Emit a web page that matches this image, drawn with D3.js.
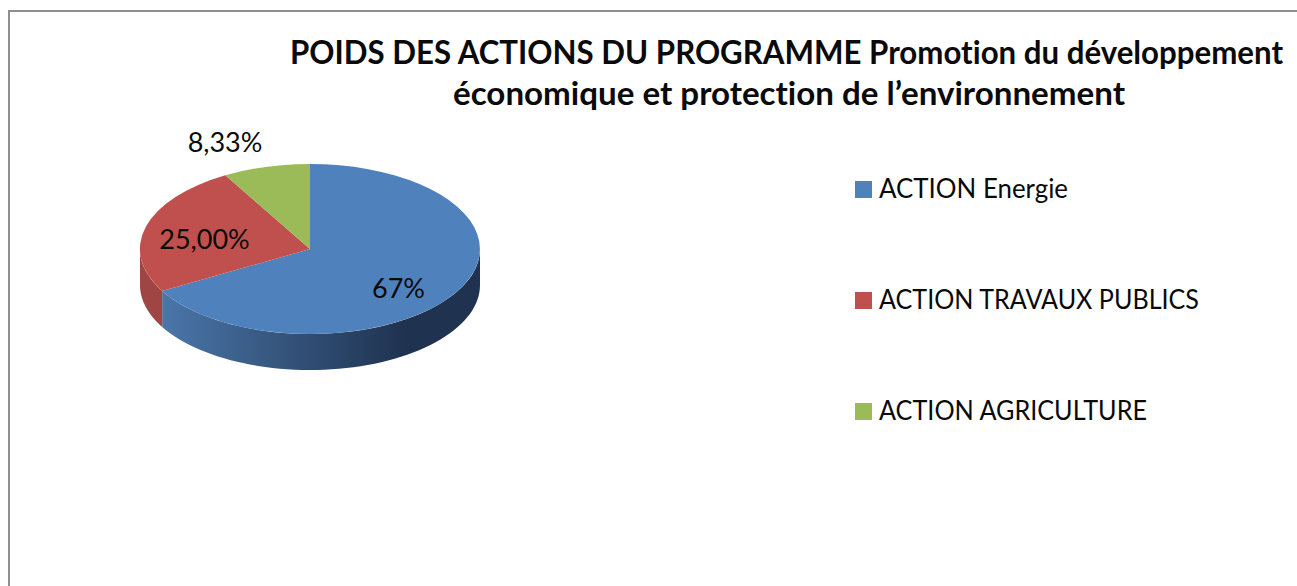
<!DOCTYPE html>
<html>
<head>
<meta charset="utf-8">
<script src="https://cdn.jsdelivr.net/npm/d3@7"></script>
<style>
  html, body { margin: 0; padding: 0; background: #fff; }
  svg { display: block; }
  text { font-family: Lato, "Open Sans", sans-serif; fill: #0a0a0a; font-variant-ligatures: none; }
</style>
</head>
<body>
<div id="chart"></div>
<script>
// chart data
var categories = ["ACTION Energie", "ACTION TRAVAUX PUBLICS", "ACTION AGRICULTURE"];
var values = [67, 25, 8.33];
var valueLabels = ["67%", "25,00%", "8,33%"];
var colors = ["#4f81bd", "#c0504d", "#9bbb59"];
var titleLines = ["POIDS DES ACTIONS DU PROGRAMME Promotion du développement", "économique et protection de l’environnement"];

var width = 1297, height = 586;
var cx = 310, cy = 249, rx = 170, ry = 85, depth = 36;

// measured text widths, the original font is narrower in capitals than Lato
var titleWidths = [993, 672];
var titleCenters = [786.5, 789];
var legendWidths = [189, 320, 268];

var svg = d3.select("#chart").append("svg")
  .attr("width", width)
  .attr("height", height);

// frame, only top and left edges are inside the crop
svg.append("path")
  .attr("d", "M9,586V11H1297")
  .attr("fill", "none")
  .attr("stroke", "#8e8e8e")
  .attr("stroke-width", 2);

// title
svg.append("g").selectAll("text")
  .data(titleLines)
  .enter().append("text")
    .attr("x", function(d, i) { return titleCenters[i]; })
    .attr("y", function(d, i) { return 64 + i * 41; })
    .attr("text-anchor", "middle")
    .attr("font-size", 31.5)
    .attr("font-weight", "bold")
    .attr("textLength", function(d, i) { return titleWidths[i]; })
    .attr("lengthAdjust", "spacingAndGlyphs")
    .text(function(d) { return d; });

var pie = d3.pie().sort(null);
var arcs = pie(values);

// gradient for the blue wall
var defs = svg.append("defs");
var grad = defs.append("linearGradient")
  .attr("id", "wallBlue")
  .attr("gradientUnits", "userSpaceOnUse")
  .attr("x1", cx - rx * 0.87).attr("x2", cx + rx * 0.55)
  .attr("y1", 0).attr("y2", 0);
grad.append("stop").attr("offset", "0").attr("stop-color", "#4a76a9");
grad.append("stop").attr("offset", "1").attr("stop-color", "#1f3350");

// side wall, angle measured clockwise from 12 o'clock like d3.pie
var wall = d3.area()
  .x(function(a) { return cx + rx * Math.sin(a); })
  .y0(function(a) { return cy - ry * Math.cos(a); })
  .y1(function(a) { return cy - ry * Math.cos(a) + depth; });

function visibleAngles(start, end) {
  var from = Math.max(start, Math.PI / 2), to = Math.min(end, Math.PI * 1.5);
  if (to <= from) return [];
  return d3.range(0, 61).map(function(i) { return from + (to - from) * i / 60; });
}

svg.append("path")
  .attr("d", wall(visibleAngles(arcs[0].startAngle, arcs[0].endAngle)))
  .attr("fill", "url(#wallBlue)");
svg.append("path")
  .attr("d", wall(visibleAngles(arcs[1].startAngle, arcs[1].endAngle)))
  .attr("fill", "#9f4543");

// top face, unit arc squashed into an ellipse
var arc = d3.arc().innerRadius(0).outerRadius(1);
svg.append("g")
  .attr("transform", "translate(" + cx + "," + cy + ") scale(" + rx + "," + ry + ")")
  .selectAll("path")
  .data(arcs)
  .enter().append("path")
    .attr("d", arc)
    .attr("fill", function(d, i) { return colors[i]; });

// value labels
var labelX = d3.scaleOrdinal().domain(valueLabels).range([398.5, 204.5, 225]);
var labelY = d3.scaleOrdinal().domain(valueLabels).range([298, 249, 152]);
svg.append("g").selectAll("text")
  .data(valueLabels)
  .enter().append("text")
    .attr("x", function(d) { return labelX(d); })
    .attr("y", function(d) { return labelY(d); })
    .attr("text-anchor", "middle")
    .attr("font-size", 27)
    .text(function(d) { return d; });

// legend
var legendY = d3.scalePoint().domain(categories).range([189, 411]);
var legend = svg.append("g").selectAll("g")
  .data(categories)
  .enter().append("g")
    .attr("transform", function(d) { return "translate(855," + legendY(d) + ")"; });
legend.append("rect")
  .attr("y", -8)
  .attr("width", 17)
  .attr("height", 17)
  .attr("fill", function(d, i) { return colors[i]; });
legend.append("text")
  .attr("x", 24)
  .attr("y", 9)
  .attr("font-size", 27)
  .attr("textLength", function(d, i) { return legendWidths[i]; })
  .attr("lengthAdjust", "spacingAndGlyphs")
  .text(function(d) { return d; });
</script>
</body>
</html>
